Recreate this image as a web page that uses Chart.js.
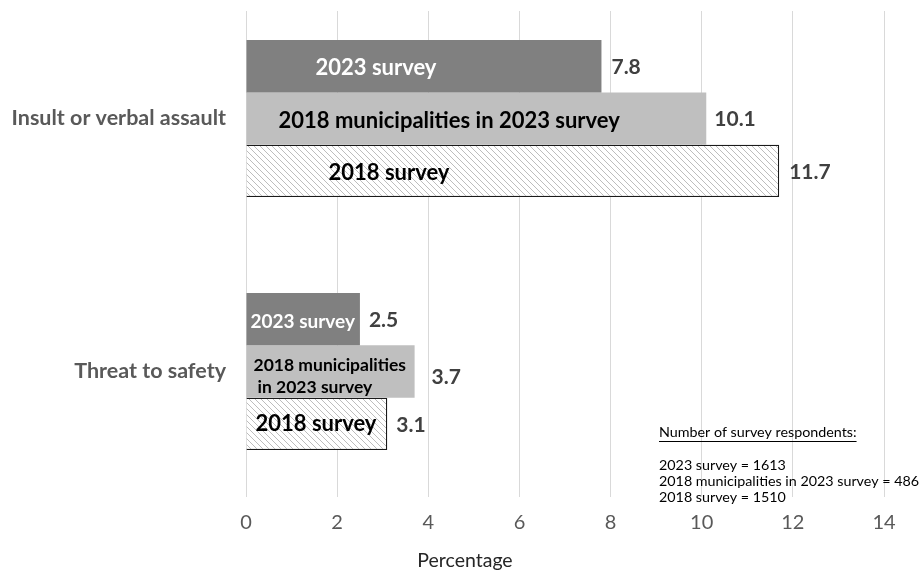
<!DOCTYPE html>
<html>
<head>
<meta charset="utf-8">
<script src="https://cdn.jsdelivr.net/npm/chart.js@4.4.1/dist/chart.umd.min.js"></script>
<style>
  html, body { margin: 0; padding: 0; background: #fff; }
  #wrap { width: 923px; height: 572px; }
</style>
</head>
<body>
<div id="wrap"><canvas id="myBarChart" width="923" height="572"></canvas></div>
<script>
// Daten
const categories = ['Insult or verbal assault', 'Threat to safety'];
const seriesNames = ['2023 survey', '2018 municipalities in 2023 survey', '2018 survey'];
const survey2023 = [7.8, 2.5];
const municipalities2018in2023 = [10.1, 3.7];
const survey2018 = [11.7, 3.1];
const xTickLabels = ['0', '2', '4', '6', '8', '10', '12', '14'];
const respondentCounts = [1613, 486, 1510];

const FONT = 'Lato, "Open Sans", sans-serif';

// Schraffur fuer 2018 survey
function makeHatch() {
    const c = document.createElement('canvas');
    c.width = 6; c.height = 6;
    const g = c.getContext('2d');
    g.fillStyle = '#ffffff';
    g.fillRect(0, 0, 6, 6);
    g.strokeStyle = '#bdbdbd';
    g.lineWidth = 1;
    for (const o of [-6, 0, 6]) {
        g.beginPath();
        g.moveTo(o, 0);
        g.lineTo(o + 6, 6);
        g.stroke();
    }
    return g.createPattern(c, 'repeat');
}

// Beschriftung in den Balken: [dataset][kategorie]
const innerLabels = [
    [{ lines: ['2023 survey'], dx: 69, dy: 2, size: 22, color: '#ffffff' },
     { lines: ['2023 survey'], dx: 4, dy: 3, size: 19, color: '#ffffff' }],
    [{ lines: ['2018 municipalities in 2023 survey'], dx: 32, dy: 2, size: 22, color: '#000000' },
     { lines: ['2018 municipalities', 'in 2023 survey'], dx: 7, dy: 5, size: 17.5, color: '#000000' }],
    [{ lines: ['2018 survey'], dx: 82, dy: 2, size: 22, color: '#000000' },
     { lines: ['2018 survey'], dx: 9, dy: 0, size: 22, color: '#000000' }]
];
// Abstand der Werte rechts vom Balken
const valueGap = [[10, 9], [8, 17], [10, 9]];

const labelPlugin = {
    id: 'labels',
    afterDatasetsDraw(chart) {
        const ctx = chart.ctx;
        ctx.save();
        chart.data.datasets.forEach((ds, i) => {
            const meta = chart.getDatasetMeta(i);
            meta.data.forEach((bar, j) => {
                // Wert
                ctx.font = 'bold 21px ' + FONT;
                ctx.fillStyle = '#404040';
                ctx.textAlign = 'left';
                ctx.textBaseline = 'middle';
                ctx.fillText(ds.data[j].x.toFixed(1), bar.x + valueGap[i][j], bar.y + (j === 1 && i === 1 ? 6 : 1));
                // Text im Balken
                const lab = innerLabels[i][j];
                ctx.font = 'bold ' + lab.size + 'px ' + FONT;
                ctx.fillStyle = lab.color;
                const lh = 22;
                const y0 = bar.y - (lab.lines.length - 1) * lh / 2 + lab.dy;
                lab.lines.forEach((t, k) => {
                    ctx.fillText(t, bar.base + lab.dx + k * 4, y0 + k * lh);
                });
            });
        });

        // Achsentitel
        ctx.font = '19.5px ' + FONT;
        ctx.fillStyle = '#262626';
        ctx.textAlign = 'center';
        ctx.fillText('Percentage', 465, 561);

        // Anzahl Befragte
        ctx.font = '14.3px ' + FONT;
        ctx.fillStyle = '#000000';
        ctx.textAlign = 'left';
        const head = 'Number of survey respondents:';
        ctx.fillText(head, 659, 432);
        const w = ctx.measureText(head).width;
        ctx.fillRect(659, 441, w, 1);
        respondentCounts.forEach((n, k) => {
            ctx.fillText(seriesNames[k] + ' = ' + n, 659, 465 + k * 16);
        });
        ctx.restore();
    }
};

const toPoints = arr => arr.map((v, i) => ({ x: v, y: i }));

const Y_MIN = -0.425, Y_MAX = 1.496;

const ctx = document.getElementById('myBarChart').getContext('2d');
const chart = new Chart(ctx, {
    type: 'bar',
    data: {
        datasets: [{
            label: seriesNames[0],
            data: toPoints(survey2023),
            backgroundColor: '#808080',
            borderWidth: 0
        }, {
            label: seriesNames[1],
            data: toPoints(municipalities2018in2023),
            backgroundColor: '#bfbfbf',
            borderWidth: 0
        }, {
            label: seriesNames[2],
            data: toPoints(survey2018),
            backgroundColor: makeHatch(),
            borderColor: '#1a1a1a',
            borderWidth: 1.3
        }]
    },
    options: {
        indexAxis: 'y',
        responsive: false,
        animation: false,
        categoryPercentage: 0.62,
        barPercentage: 1,
        layout: { padding: { top: 11, right: 39, left: 0, bottom: 0 } },
        plugins: {
            legend: { display: false },
            tooltip: { enabled: false }
        },
        scales: {
            x: {
                type: 'linear',
                min: 0,
                max: 14,
                grid: { color: '#d9d9d9', drawTicks: false },
                border: { display: false },
                ticks: {
                    stepSize: 2,
                    padding: 14,
                    color: '#595959',
                    font: { family: FONT, size: 20 },
                    callback: (v, i) => xTickLabels[i]
                },
                afterFit: s => { s.height = 75; s.paddingLeft = 0; s.paddingRight = 0; }
            },
            y: {
                type: 'linear',
                reverse: true,
                offset: false,
                bounds: 'data',
                min: Y_MIN,
                max: Y_MAX,
                grid: { display: false, offset: false },
                border: { display: false },
                afterBuildTicks: s => {
                    s.ticks = [{ value: 0 }, { value: 1 }];
                    s.min = Y_MIN;
                    s.max = Y_MAX;
                },
                ticks: {
                    autoSkip: false,
                    padding: 12,
                    color: '#595959',
                    font: { family: FONT, size: 21.5, weight: 'bold' },
                    callback: v => categories[v]
                },
                afterFit: s => { s.width = 246; s.paddingTop = 0; s.paddingBottom = 0; }
            }
        }
    },
    plugins: [labelPlugin]
});
</script>
</body>
</html>
